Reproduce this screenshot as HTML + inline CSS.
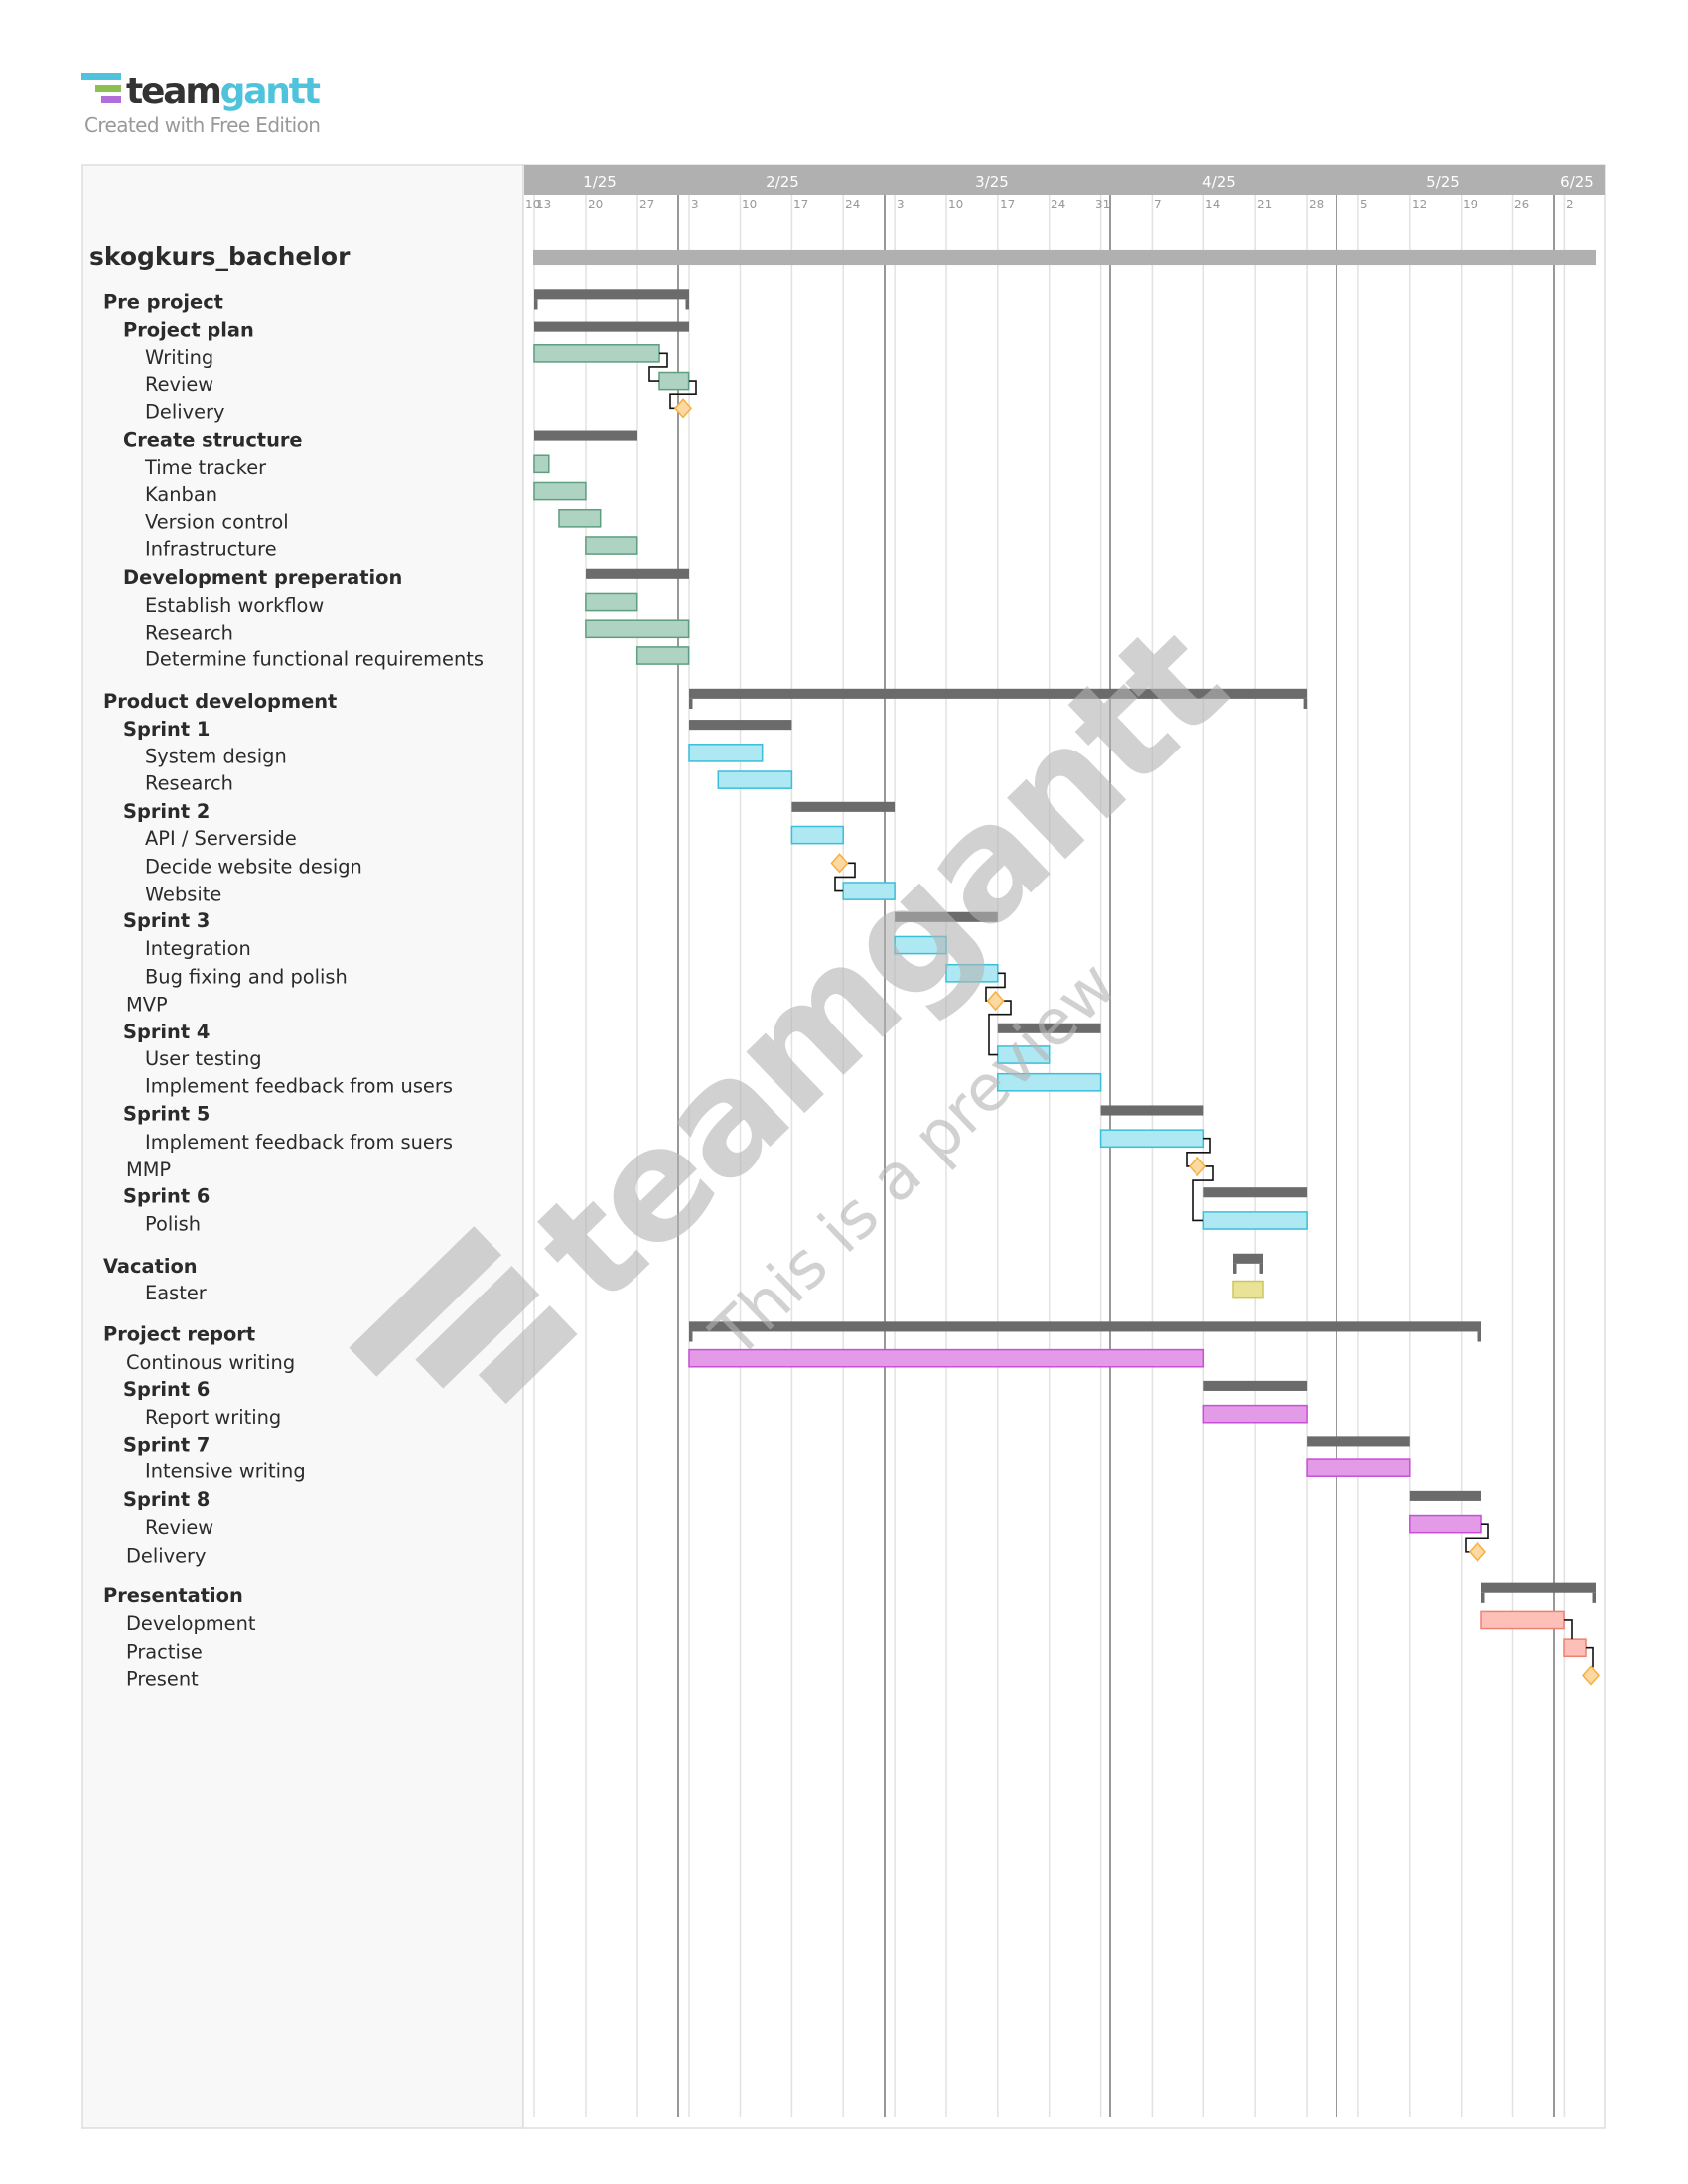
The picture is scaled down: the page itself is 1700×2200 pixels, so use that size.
<!DOCTYPE html>
<html><head><meta charset="utf-8"><style>
html,body{margin:0;padding:0;background:#fff;}
svg{display:block;}
text{font-family:"DejaVu Sans","Liberation Sans",sans-serif;}
</style></head><body>
<svg width="1700" height="2200" viewBox="0 0 1700 2200" xmlns="http://www.w3.org/2000/svg">
<!-- logo -->
<rect x="82" y="74" width="40" height="7" fill="#4fc3dc"/>
<rect x="96" y="86" width="26" height="7" fill="#8cc152"/>
<rect x="102" y="97" width="20" height="7" fill="#b06fd8"/>
<text x="127" y="104" font-family="Liberation Sans" font-weight="bold" font-size="36" fill="#333" letter-spacing="-2.2">team<tspan fill="#4fc3dc">gantt</tspan></text>
<text x="85" y="133" font-family="Liberation Sans" font-size="20" fill="#999" letter-spacing="-0.6">Created with Free Edition</text>

<!-- panels -->
<rect x="83" y="166" width="444" height="1978" fill="#f8f8f8" stroke="#dddddd" stroke-width="1.5"/>
<rect x="527" y="166" width="1089" height="1978" fill="#fff" stroke="#dddddd" stroke-width="1.5"/>
<rect x="528" y="166" width="1088" height="30" fill="#b0b0b0"/>

<g fill="#fff" font-size="15" text-anchor="middle">
<text x="604" y="188">1/25</text><text x="788" y="188">2/25</text><text x="999" y="188">3/25</text>
<text x="1228" y="188">4/25</text><text x="1453" y="188">5/25</text><text x="1588" y="188">6/25</text>
</g>

<!-- week lines -->
<g stroke="#e2e2e2" stroke-width="1.5">
<line x1="538" y1="196" x2="538" y2="2133"/><line x1="590" y1="196" x2="590" y2="2133"/><line x1="642" y1="196" x2="642" y2="2133"/>
<line x1="694" y1="196" x2="694" y2="2133"/><line x1="745.5" y1="196" x2="745.5" y2="2133"/><line x1="797.4" y1="196" x2="797.4" y2="2133"/>
<line x1="849.2" y1="196" x2="849.2" y2="2133"/><line x1="901.1" y1="196" x2="901.1" y2="2133"/><line x1="953" y1="196" x2="953" y2="2133"/>
<line x1="1004.8" y1="196" x2="1004.8" y2="2133"/><line x1="1056.7" y1="196" x2="1056.7" y2="2133"/><line x1="1108.6" y1="196" x2="1108.6" y2="2133"/>
<line x1="1160.4" y1="196" x2="1160.4" y2="2133"/><line x1="1212.3" y1="196" x2="1212.3" y2="2133"/><line x1="1264.2" y1="196" x2="1264.2" y2="2133"/>
<line x1="1316.1" y1="196" x2="1316.1" y2="2133"/><line x1="1367.9" y1="196" x2="1367.9" y2="2133"/><line x1="1419.8" y1="196" x2="1419.8" y2="2133"/>
<line x1="1471.7" y1="196" x2="1471.7" y2="2133"/><line x1="1523.5" y1="196" x2="1523.5" y2="2133"/><line x1="1575.4" y1="196" x2="1575.4" y2="2133"/>
</g>
<g stroke="#777" stroke-width="1.5">
<line x1="683" y1="196" x2="683" y2="2133"/><line x1="891" y1="196" x2="891" y2="2133"/><line x1="1118" y1="196" x2="1118" y2="2133"/>
<line x1="1346" y1="196" x2="1346" y2="2133"/><line x1="1565" y1="196" x2="1565" y2="2133"/>
</g>
<g fill="#999" font-size="12">
<text x="529" y="210">10</text><text x="540" y="210">13</text><text x="592" y="210">20</text><text x="644" y="210">27</text>
<text x="696" y="210">3</text><text x="747" y="210">10</text><text x="799" y="210">17</text><text x="851" y="210">24</text>
<text x="903" y="210">3</text><text x="955" y="210">10</text><text x="1007" y="210">17</text><text x="1058" y="210">24</text>
<text x="1103" y="210">31</text><text x="1162" y="210">7</text><text x="1214" y="210">14</text><text x="1266" y="210">21</text>
<text x="1318" y="210">28</text><text x="1370" y="210">5</text><text x="1422" y="210">12</text><text x="1473" y="210">19</text>
<text x="1525" y="210">26</text><text x="1577" y="210">2</text>
</g>

<g transform="translate(0,-2.28) scale(1,1.0088)">
<!-- left labels -->
<text x="90" y="267" font-size="25" font-weight="bold" fill="#2b2b2b">skogkurs_bachelor</text>
<g font-size="19.4" fill="#2b2b2b" transform="translate(0,4)">
<g font-weight="bold">
<text x="104" y="306">Pre project</text>
<text x="124" y="334">Project plan</text>
<text x="124" y="444">Create structure</text>
<text x="124" y="581">Development preperation</text>
<text x="104" y="705">Product development</text>
<text x="124" y="733">Sprint 1</text>
<text x="124" y="815">Sprint 2</text>
<text x="124" y="924">Sprint 3</text>
<text x="124" y="1035">Sprint 4</text>
<text x="124" y="1117">Sprint 5</text>
<text x="124" y="1199">Sprint 6</text>
<text x="104" y="1269">Vacation</text>
<text x="104" y="1337">Project report</text>
<text x="124" y="1392">Sprint 6</text>
<text x="124" y="1448">Sprint 7</text>
<text x="124" y="1502">Sprint 8</text>
<text x="104" y="1598">Presentation</text>
</g>
<text x="146" y="362">Writing</text>
<text x="146" y="389">Review</text>
<text x="146" y="416">Delivery</text>
<text x="146" y="471">Time tracker</text>
<text x="146" y="499">Kanban</text>
<text x="146" y="526">Version control</text>
<text x="146" y="553">Infrastructure</text>
<text x="146" y="609">Establish workflow</text>
<text x="146" y="637">Research</text>
<text x="146" y="663">Determine functional requirements</text>
<text x="146" y="760">System design</text>
<text x="146" y="787">Research</text>
<text x="146" y="842">API / Serverside</text>
<text x="146" y="870">Decide website design</text>
<text x="146" y="898">Website</text>
<text x="146" y="952">Integration</text>
<text x="146" y="980">Bug fixing and polish</text>
<text x="127" y="1008">MVP</text>
<text x="146" y="1062">User testing</text>
<text x="146" y="1089">Implement feedback from users</text>
<text x="146" y="1145">Implement feedback from suers</text>
<text x="127" y="1173">MMP</text>
<text x="146" y="1227">Polish</text>
<text x="146" y="1296">Easter</text>
<text x="127" y="1365">Continous writing</text>
<text x="146" y="1420">Report writing</text>
<text x="146" y="1474">Intensive writing</text>
<text x="146" y="1530">Review</text>
<text x="127" y="1558">Delivery</text>
<text x="127" y="1626">Development</text>
<text x="127" y="1654">Practise</text>
<text x="127" y="1681">Present</text>
</g>

<!-- project bar -->
<rect x="537" y="252" width="1070" height="15" fill="#b0b0b0"/>

<!-- group bars with ticks -->
<g fill="#6b6b6b">
<rect x="538" y="291" width="156" height="10"/><rect x="538" y="301" width="3.5" height="10"/><rect x="690.5" y="301" width="3.5" height="10"/>
<rect x="694" y="690" width="622" height="10"/><rect x="694" y="700" width="3.5" height="10"/><rect x="1312.6" y="700" width="3.5" height="10"/>
<rect x="1242" y="1254" width="30" height="10"/><rect x="1242" y="1264" width="3.5" height="10"/><rect x="1268.5" y="1264" width="3.5" height="10"/>
<rect x="694" y="1322" width="798" height="10"/><rect x="694" y="1332" width="3.5" height="10"/><rect x="1488.5" y="1332" width="3.5" height="10"/>
<rect x="1492" y="1583" width="115" height="10"/><rect x="1492" y="1593" width="3.5" height="10"/><rect x="1603.5" y="1593" width="3.5" height="10"/>
<!-- subgroup bars -->
<rect x="538" y="323" width="156" height="10"/>
<rect x="538" y="432" width="104" height="10"/>
<rect x="590" y="570" width="104" height="10"/>
<rect x="694" y="721" width="103.4" height="10"/>
<rect x="797.4" y="803" width="103.7" height="10"/>
<rect x="901.1" y="913" width="103.7" height="10"/>
<rect x="1004.8" y="1024" width="103.8" height="10"/>
<rect x="1108.6" y="1106" width="103.7" height="10"/>
<rect x="1212.3" y="1188" width="103.8" height="10"/>
<rect x="1212.3" y="1381" width="103.8" height="10"/>
<rect x="1316.1" y="1437" width="103.7" height="10"/>
<rect x="1419.8" y="1491" width="72.2" height="10"/>
</g>

<!-- green tasks -->
<g fill="#aed3c3" stroke="#5f9e80" stroke-width="1.5">
<rect x="538" y="347" width="126" height="17"/>
<rect x="664" y="374.5" width="29.6" height="17"/>
<rect x="538" y="456.5" width="14.8" height="17"/>
<rect x="538" y="484.5" width="51.9" height="17"/>
<rect x="563" y="511.5" width="41.7" height="17"/>
<rect x="589.9" y="538.5" width="51.8" height="17"/>
<rect x="589.9" y="594.5" width="51.8" height="17"/>
<rect x="589.9" y="622" width="103.7" height="17"/>
<rect x="641.7" y="648.5" width="51.9" height="17"/>
</g>
<!-- blue tasks -->
<g fill="#aee8f3" stroke="#3bbfd8" stroke-width="1.5">
<rect x="694" y="745.5" width="73.7" height="17"/>
<rect x="723.3" y="772.5" width="74.1" height="17"/>
<rect x="797.4" y="827.5" width="51.8" height="17"/>
<rect x="849.2" y="883.5" width="51.9" height="17"/>
<rect x="901.1" y="937.5" width="51.9" height="17"/>
<rect x="953" y="965.5" width="51.8" height="17"/>
<rect x="1004.8" y="1047" width="51.9" height="17"/>
<rect x="1004.8" y="1074.5" width="103.8" height="17"/>
<rect x="1108.6" y="1130.5" width="103.7" height="17"/>
<rect x="1212.3" y="1212.5" width="103.8" height="17"/>
</g>
<rect x="1242" y="1281.5" width="30" height="17" fill="#e8e396" stroke="#cfc65a" stroke-width="1.5"/>
<g fill="#e39be8" stroke="#c84fd6" stroke-width="1.5">
<rect x="694" y="1350" width="518.3" height="17"/>
<rect x="1212.3" y="1405.5" width="103.8" height="17"/>
<rect x="1316.1" y="1459.5" width="103.7" height="17"/>
<rect x="1419.8" y="1515.5" width="72.2" height="17"/>
</g>
<g fill="#fdc0b8" stroke="#f08070" stroke-width="1.5">
<rect x="1492" y="1611.5" width="83" height="17"/>
<rect x="1575" y="1639" width="22" height="17"/>
</g>

<!-- connectors -->
<g fill="none" stroke="#111" stroke-width="1.6">
<path d="M664,355.5 H672 V369 H654 V383 H664"/>
<path d="M694,383 H701 V396 H675 V410 H681"/>
<path d="M853,864 H861 V878 H841 V892 H849"/>
<path d="M1005,974 H1012 V988 H993 V1001.5 H995"/>
<path d="M1010,1001.5 H1018 V1015 H996 V1055.5 H1005"/>
<path d="M1212,1139 H1219 V1153 H1195 V1167 H1199"/>
<path d="M1214,1167 H1222 V1181 H1201 V1221 H1212"/>
<path d="M1492,1524 H1499 V1538 H1476 V1551.5 H1481"/>
<path d="M1575,1620 H1583 V1639"/>
<path d="M1597,1647.5 H1604 V1667"/>
</g>

<!-- milestones -->
<g fill="#fcd9a0" stroke="#f5b040" stroke-width="1.5">
<path d="M688,401 L696,410 L688,419 L680,410 Z"/>
<path d="M845.5,855 L853.5,864 L845.5,873 L837.5,864 Z"/>
<path d="M1002.6,992.5 L1010.6,1001.5 L1002.6,1010.5 L994.6,1001.5 Z"/>
<path d="M1206,1158 L1214,1167 L1206,1176 L1198,1167 Z"/>
<path d="M1488,1542.5 L1496,1551.5 L1488,1560.5 L1480,1551.5 Z"/>
<path d="M1602,1666 L1610,1675 L1602,1684 L1594,1675 Z"/>
</g>

<!-- watermark -->
<g opacity="0.6" fill="#b4b4b4">
<g transform="translate(885,965) rotate(-44)">
<text x="0" y="55" font-family="Liberation Sans" font-weight="bold" font-size="155" text-anchor="middle" letter-spacing="-4">teamgantt</text>
<rect x="-650" y="-95" width="175" height="40"/>
<rect x="-610" y="-40" width="135" height="40"/>
<rect x="-575" y="15" width="100" height="40"/>
</g>
<text transform="translate(920,1160) rotate(-44)" x="0" y="22" font-size="64" text-anchor="middle">This is a preview</text>
</g>
</g>
</svg>
</body></html>
